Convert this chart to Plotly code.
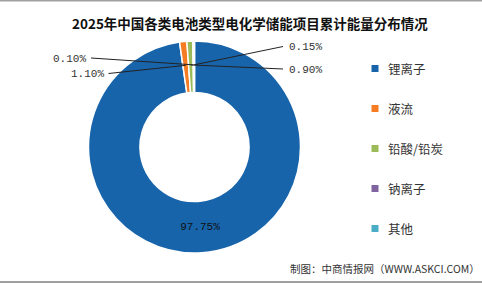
import math
import plotly.graph_objects as go

# ---- data ----
categories = ["锂离子", "液流", "铅酸/铅炭", "钠离子", "其他"]
shares = [97.75, 1.10, 0.90, 0.10, 0.15]
share_labels = ["97.75%", "1.10%", "0.90%", "0.10%", "0.15%"]
colors = ["#1764ab", "#f57c22", "#9bbb59", "#8064a2", "#4bacc6"]
title_text = "2025年中国各类电池类型电化学储能项目累计能量分布情况"
source_text = "制图：中商情报网（WWW.ASKCI.COM）"

# ---- layout constants (pixels) ----
W, H = 482, 284
CX, CY, R = 194.5, 147.0, 106.0
HOLE = 0.515


def px(x):
    return x / W


def py(y):
    return 1 - y / H


fig = go.Figure()
fig.add_trace(go.Pie(
    labels=categories,
    values=shares,
    text=share_labels,
    texttemplate="%{text}",
    textposition=["inside", "none", "none", "none", "none"],
    insidetextorientation="horizontal",
    insidetextfont=dict(family="Liberation Mono", size=11, color="#111111"),
    sort=False,
    direction="clockwise",
    rotation=0,
    hole=HOLE,
    marker=dict(colors=colors, line=dict(color="white", width=1.5)),
    domain=dict(x=[px(CX - R), px(CX + R)], y=[py(CY + R), py(CY - R)]),
    showlegend=False,
    hoverinfo="label+percent",
))

# outside labels with leader lines (label position = style; anchor from data)
label_style = {
    1: dict(tx=105.5, ty=74.0, lx=108.5, ly=73.5, side="right"),
    2: dict(tx=287.0, ty=69.5, lx=283.0, ly=69.0, side="left"),
    3: dict(tx=88.0, ty=58.5, lx=91.0, ly=58.0, side="right"),
    4: dict(tx=287.0, ty=47.5, lx=283.0, ly=46.5, side="left"),
}
total = sum(shares)
cum = 0.0
anchors = []
for v in shares:
    mid = (cum + v / 2) / total * 2 * math.pi
    anchors.append(mid)
    cum += v

shapes = []
annotations = []
r_anchor = 0.775 * R
for i, st in label_style.items():
    th = anchors[i]
    axp = CX + r_anchor * math.sin(th)
    ayp = CY - r_anchor * math.cos(th)
    shapes.append(dict(type="line", xref="paper", yref="paper",
                       x0=px(st["lx"]), y0=py(st["ly"]), x1=px(axp), y1=py(ayp),
                       line=dict(color="#222222", width=1)))
    annotations.append(dict(
        x=px(st["tx"]), y=py(st["ty"]), xref="paper", yref="paper",
        text=share_labels[i], showarrow=False,
        xanchor="right" if st["side"] == "right" else "left", yanchor="middle",
        font=dict(family="Liberation Mono", size=11, color="#333333"),
    ))

# custom legend
LEG_X, LEG_Y0, LEG_DY, SQ = 375.0, 68.5, 40.0, 7.0
for i, (cat, col) in enumerate(zip(categories, colors)):
    yy = LEG_Y0 + i * LEG_DY
    shapes.append(dict(type="rect", xref="paper", yref="paper",
                       x0=px(LEG_X - SQ / 2), x1=px(LEG_X + SQ / 2),
                       y0=py(yy + SQ / 2), y1=py(yy - SQ / 2),
                       fillcolor=col, line=dict(width=0)))
    annotations.append(dict(
        x=px(386), y=py(yy), xref="paper", yref="paper", text=cat,
        showarrow=False, xanchor="left", yanchor="middle",
        font=dict(family="Noto Sans CJK SC", size=12.5, color="#333333"),
    ))

# title
annotations.append(dict(
    x=px(250), y=py(23), xref="paper", yref="paper",
    text="<b>" + title_text + "</b>", showarrow=False,
    xanchor="center", yanchor="middle",
    font=dict(family="Noto Sans CJK SC", size=13.5, color="#111111"),
))
# source
annotations.append(dict(
    x=px(482), y=py(268), xref="paper", yref="paper",
    text=source_text, showarrow=False, xanchor="right", yanchor="middle",
    font=dict(family="Noto Sans CJK SC", size=10.5, color="#333333"),
))

# frame lines top and bottom
shapes.append(dict(type="line", xref="paper", yref="paper", x0=0, x1=1,
                   y0=py(0.5), y1=py(0.5), line=dict(color="#a0a0a0", width=2)))
shapes.append(dict(type="line", xref="paper", yref="paper", x0=0, x1=1,
                   y0=py(282), y1=py(282), line=dict(color="#a0a0a0", width=2)))

fig.update_layout(
    width=W, height=H,
    margin=dict(l=0, r=0, t=0, b=0),
    paper_bgcolor="white", plot_bgcolor="white",
    shapes=shapes, annotations=annotations,
    showlegend=False,
)

fig.write_html("out.html")
